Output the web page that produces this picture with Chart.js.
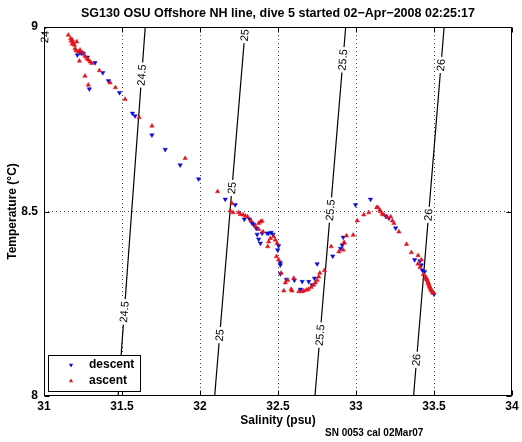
<!DOCTYPE html>
<html><head><meta charset="utf-8">
<script src="https://cdn.jsdelivr.net/npm/chart.js@4/dist/chart.umd.min.js"></script>
<style>html,body{margin:0;padding:0;background:#fff;}#wrap{width:522px;height:442px;}</style>
</head><body><div id="wrap"><canvas id="c" width="522" height="442"></canvas></div>
<script>
const titleText = 'SG130 OSU Offshore NH line, dive 5 started 02\u2212Apr\u22122008 02:25:17';
const xTitle = 'Salinity (psu)';
const yTitle = 'Temperature (\u00B0C)';
const footText = 'SN 0053 cal 02Mar07';
const xTicks = [31, 31.5, 32, 32.5, 33, 33.5, 34];
const yTicks = [8, 8.5, 9];

const descentS = [31.214,31.231,31.242,31.252,31.278,31.327,31.377,31.413,31.291,31.484,31.567,31.584,31.692,31.777,31.873,31.991,32.162,32.226,
32.284,32.318,32.334,32.344,32.361,32.398,32.366,32.376,32.387,32.430,32.440,32.456,32.468,32.504,32.498,32.515,32.515,32.515,
32.554,32.605,32.655,32.697,32.644,32.719,32.734,32.751,32.851,32.901,32.912,32.918,
32.997,33.093,33.190,33.211,33.254,33.376,33.410,33.419,33.425,33.440,33.500];
const descentT = [8.924,8.930,8.929,8.929,8.918,8.903,8.876,8.854,8.832,8.822,8.766,8.759,8.707,8.668,8.626,8.588,8.533,8.518,
8.479,8.479,8.468,8.465,8.454,8.441,8.438,8.425,8.414,8.441,8.441,8.443,8.438,8.407,8.396,8.361,8.355,8.331,
8.316,8.314,8.310,8.310,8.289,8.301,8.319,8.358,8.379,8.400,8.409,8.430,
8.518,8.533,8.488,8.482,8.455,8.369,8.366,8.355,8.341,8.337,8.276];

const ascentS = [31.156,31.171,31.182,31.173,31.188,31.180,31.195,31.210,31.199,31.205,31.220,31.231,31.248,31.263,31.274,31.284,31.295,31.306,31.227,31.263,31.284,31.355,31.424,31.458,31.520,31.610,31.692,31.905,32.113,
32.205,32.194,32.212,32.248,32.259,32.276,32.291,32.305,32.327,32.355,32.376,32.387,32.398,32.376,32.404,32.451,32.440,32.434,32.472,32.483,32.494,32.490,32.504,32.520,
32.547,32.562,32.601,32.537,32.584,32.590,32.633,32.655,32.665,32.682,32.695,32.712,32.729,32.740,32.751,32.761,32.768,32.798,32.841,32.890,32.918,32.926,32.922,32.939,32.982,
33.008,33.050,33.082,33.132,33.140,33.153,33.157,33.168,33.179,33.200,33.222,33.233,33.243,33.275,33.324,33.355,33.398,33.397,33.419,33.410,33.432,
33.446,33.449,33.452,33.454,33.457,33.461,33.464,33.466,33.470,33.473,33.475,33.480,33.483,33.485,33.490,33.495];
const ascentT = [8.978,8.969,8.965,8.962,8.957,8.954,8.951,8.960,8.942,8.936,8.933,8.938,8.930,8.921,8.915,8.911,8.906,8.902,8.908,8.867,8.843,8.882,8.849,8.836,8.804,8.755,8.732,8.644,8.554,
8.522,8.502,8.497,8.497,8.492,8.491,8.488,8.486,8.475,8.461,8.468,8.472,8.474,8.452,8.445,8.427,8.418,8.405,8.432,8.423,8.414,8.378,8.369,8.333,
8.307,8.314,8.319,8.285,8.289,8.285,8.283,8.283,8.285,8.287,8.289,8.295,8.301,8.307,8.314,8.323,8.333,8.340,8.405,8.391,8.396,8.415,8.415,8.434,8.436,
8.475,8.491,8.497,8.511,8.511,8.504,8.500,8.493,8.491,8.484,8.486,8.475,8.468,8.445,8.411,8.389,8.381,8.358,8.369,8.349,8.330,
8.323,8.320,8.318,8.316,8.313,8.308,8.306,8.303,8.298,8.296,8.293,8.289,8.287,8.285,8.281,8.279];

// isopycnal (sigma-theta) lines: salinity at T=8 and T=9
const sigmaLevels = ['24', '24.5', '25', '25.5', '26'];
const sigmaS_T8 = [30.82, 31.475, 32.094, 32.737, 33.369];
const sigmaS_T9 = [31.012, 31.649, 32.291, 32.934, 33.565];
const sigmaLabelT = [[8.973], [8.870, 8.228], [8.978, 8.564, 8.165], [8.911, 8.504, 8.165], [8.897, 8.491, 8.098]];

const FONT = "'Liberation Sans', Arial, Helvetica, sans-serif";
const BLUE = '#0a0ad8';
const RED = '#e3131b';

const zip = (a, b) => a.map((v, i) => ({x: v, y: b[i]}));

const datasets = sigmaLevels.map((lev, i) => ({
  label: 'sigma ' + lev,
  type: 'scatter',
  data: [{x: sigmaS_T8[i], y: 8}, {x: sigmaS_T9[i], y: 9}],
  showLine: true, borderColor: '#000', borderWidth: 1.2,
  pointRadius: 0, order: 3
}));
datasets.push({
  label: 'descent', data: zip(descentS, descentT),
  pointStyle: 'triangle', rotation: 180, pointRadius: 2.5,
  backgroundColor: BLUE, borderColor: BLUE, borderWidth: 0.5, order: 2
});
datasets.push({
  label: 'ascent', data: zip(ascentS, ascentT),
  pointStyle: 'triangle', rotation: 0, pointRadius: 2.5,
  backgroundColor: RED, borderColor: RED, borderWidth: 0.5, order: 1
});

function drawTri(ctx, cx, cy, r, down, color) {
  ctx.save();
  ctx.translate(cx, cy);
  if (down) ctx.rotate(Math.PI);
  ctx.beginPath();
  const s = r * 3 / Math.sqrt(3);
  ctx.moveTo(0, -r);
  ctx.lineTo(s / 2, r / 2);
  ctx.lineTo(-s / 2, r / 2);
  ctx.closePath();
  ctx.fillStyle = color; ctx.fill();
  ctx.restore();
}

const decor = {
  id: 'decor',
  afterDatasetsDraw(chart) {
    const {ctx, scales: {x, y}} = chart;
    ctx.save();
    ctx.font = '11px ' + FONT;
    ctx.textAlign = 'center';
    ctx.textBaseline = 'middle';
    sigmaLevels.forEach((lev, i) => {
      const x8 = x.getPixelForValue(sigmaS_T8[i]), y8 = y.getPixelForValue(8);
      const x9 = x.getPixelForValue(sigmaS_T9[i]), y9 = y.getPixelForValue(9);
      const ang = Math.atan2(y9 - y8, x9 - x8);
      sigmaLabelT[i].forEach(t => {
        const s = sigmaS_T8[i] + (sigmaS_T9[i] - sigmaS_T8[i]) * (t - 8);
        const px = x.getPixelForValue(s), py = y.getPixelForValue(t);
        const w = ctx.measureText(lev).width;
        ctx.save();
        ctx.translate(px, py);
        ctx.rotate(ang);
        ctx.fillStyle = '#fff';
        ctx.fillRect(-w / 2 - 2, -5, w + 4, 10);
        ctx.fillStyle = '#000';
        ctx.fillText(lev, 0, 0.5);
        ctx.restore();
      });
    });
    ctx.restore();
  },
  afterDraw(chart) {
    const {ctx, chartArea: a, scales: {x, y}} = chart;
    ctx.save();
    const L = Math.round(a.left) + 0.5, R = Math.round(a.right) - 0.5;
    const T = Math.round(a.top) + 0.5, B = Math.round(a.bottom) - 0.5;
    ctx.strokeStyle = '#000'; ctx.lineWidth = 1;
    ctx.strokeRect(L, T, R - L, B - T);
    ctx.beginPath();
    xTicks.forEach(v => {
      const px = Math.round(x.getPixelForValue(v)) + 0.5;
      ctx.moveTo(px, B); ctx.lineTo(px, B - 5);
      ctx.moveTo(px, T); ctx.lineTo(px, T + 5);
    });
    yTicks.forEach(v => {
      const py = Math.round(y.getPixelForValue(v)) + 0.5;
      ctx.moveTo(L, py); ctx.lineTo(L + 5, py);
      ctx.moveTo(R, py); ctx.lineTo(R - 5, py);
    });
    ctx.stroke();

    // title
    ctx.fillStyle = '#000';
    ctx.font = 'bold 12.5px ' + FONT;
    ctx.textAlign = 'center'; ctx.textBaseline = 'middle';
    ctx.fillText(titleText, (a.left + a.right) / 2, 14);

    // footnote
    ctx.font = 'bold 10px ' + FONT;
    ctx.textAlign = 'left';
    ctx.fillText(footText, 325, 433);

    // legend
    const lx = 48.5, ly = 355.5, lw = 92, lh = 36;
    ctx.fillStyle = '#fff';
    ctx.fillRect(lx, ly, lw, lh);
    ctx.strokeStyle = '#000'; ctx.lineWidth = 1;
    ctx.strokeRect(lx, ly, lw, lh);
    drawTri(ctx, 71, 365, 2.5, true, BLUE);
    drawTri(ctx, 71, 381, 2.5, false, RED);
    ctx.fillStyle = '#000';
    ctx.font = 'bold 12px ' + FONT;
    ctx.textAlign = 'left'; ctx.textBaseline = 'middle';
    ctx.fillText('descent', 89, 365);
    ctx.fillText('ascent', 89, 381);
    ctx.restore();
  }
};

const gridColor = v => (ctx) => {
  const val = ctx.tick ? ctx.tick.value : null;
  return (val !== null && (Math.abs(val - v[0]) < 1e-9 || Math.abs(val - v[1]) < 1e-9)) ? 'rgba(0,0,0,0)' : '#444';
};

new Chart(document.getElementById('c'), {
  type: 'scatter',
  data: {datasets},
  options: {
    responsive: false,
    animation: false,
    events: [],
    layout: {padding: {top: 27, right: 10, left: 0, bottom: 0}},
    plugins: {legend: {display: false}, title: {display: false}, tooltip: {enabled: false}},
    scales: {
      x: {
        type: 'linear', min: 31, max: 34,
        afterBuildTicks: s => { s.ticks = xTicks.map(v => ({value: v})); },
        afterFit: s => { s.height = 46; },
        ticks: {color: '#000', font: {family: FONT, size: 12, weight: 'bold'}, padding: 3, maxRotation: 0,
          callback: v => String(v)},
        grid: {color: gridColor([31, 34]), lineWidth: 1, drawTicks: false},
        border: {display: false, dash: [1, 3]},
        title: {display: true, text: xTitle, color: '#000', font: {family: FONT, size: 12, weight: 'bold'}, padding: {top: 0, bottom: 14}}
      },
      y: {
        type: 'linear', min: 8, max: 9,
        afterBuildTicks: s => { s.ticks = yTicks.map(v => ({value: v})); },
        afterFit: s => { s.width = 44; },
        ticks: {color: '#000', font: {family: FONT, size: 12, weight: 'bold'}, padding: 6,
          callback: v => String(v)},
        grid: {color: gridColor([8, 9]), lineWidth: 1, drawTicks: false},
        border: {display: false, dash: [1, 3]},
        title: {display: true, text: yTitle, color: '#000', font: {family: FONT, size: 12, weight: 'bold'}, padding: {top: 5, bottom: 0}}
      }
    }
  },
  plugins: [decor]
});
</script>
</body></html>
